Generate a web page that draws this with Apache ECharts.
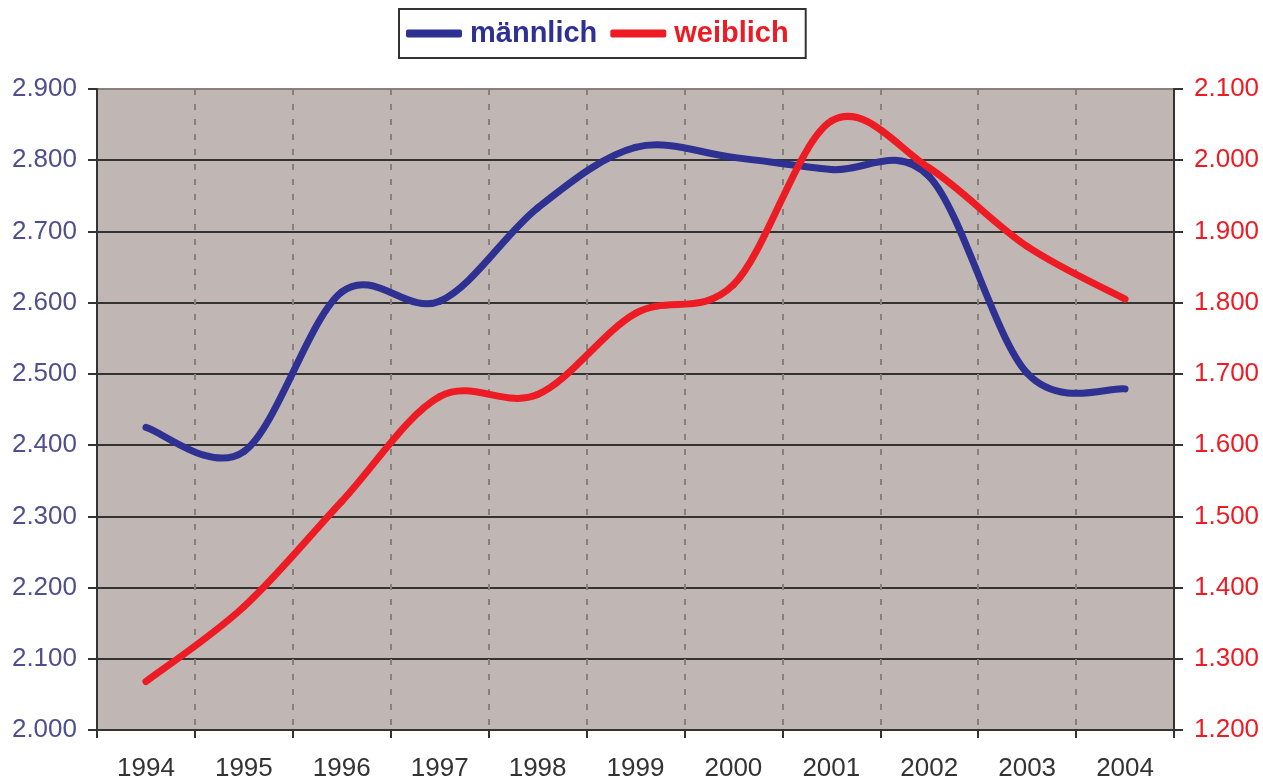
<!DOCTYPE html>
<html>
<head>
<meta charset="utf-8">
<script src="https://cdn.jsdelivr.net/npm/echarts@6/dist/echarts.min.js"></script>
<style>
html,body{margin:0;padding:0;background:#fff;}
#chart{width:1263px;height:780px;}
</style>
</head>
<body>
<div id="chart"></div>
<script>
const years = ['1994','1995','1996','1997','1998','1999','2000','2001','2002','2003','2004'];
const maleName = 'männlich';
const femaleName = 'weiblich';
const male = [2425, 2391, 2615, 2602, 2733, 2818, 2804, 2787, 2777, 2501, 2479];
const female = [1268, 1373, 1521, 1668, 1671, 1785, 1825, 2055, 1989, 1879, 1805];

const MALE_COLOR = '#2E3192';
const FEMALE_COLOR = '#ED1C24';

function de(v){ return String(v).replace(/\B(?=(\d{3})+(?!\d))/g, '.'); }

// Smooth curve (Catmull-Rom style Bezier, like spreadsheet smoothing) drawn
// segment by segment from the data through the axis scales (api.coord).
function makeRender(arr, color) {
  return function (params, api) {
    const i = params.dataIndex;
    const n = arr.length;
    if (i >= n - 1) return null;
    const P = function (k) {
      const j = Math.max(0, Math.min(n - 1, k));
      return api.coord([j, arr[j]]);
    };
    const p0 = P(i - 1), p1 = P(i), p2 = P(i + 1), p3 = P(i + 2);
    const t = 1 / 6;
    return {
      type: 'bezierCurve',
      shape: {
        x1: p1[0], y1: p1[1], x2: p2[0], y2: p2[1],
        cpx1: p1[0] + (p2[0] - p0[0]) * t, cpy1: p1[1] + (p2[1] - p0[1]) * t,
        cpx2: p2[0] - (p3[0] - p1[0]) * t, cpy2: p2[1] - (p3[1] - p1[1]) * t
      },
      style: { stroke: color, lineWidth: 7, lineCap: 'round', lineJoin: 'round', fill: 'none' }
    };
  };
}

const gridColors = ['#333333','#333333','#333333','#333333','#333333','#333333','#333333','#333333','#333333','#8A7F7C'];

const chart = echarts.init(document.getElementById('chart'));
chart.setOption({
  animation: false,
  backgroundColor: '#ffffff',
  textStyle: { fontFamily: 'Liberation Sans, Arial, sans-serif' },
  legend: {
    left: 399, top: 9,
    padding: [10, 17, 10, 7],
    itemGap: 13,
    itemWidth: 56, itemHeight: 8,
    borderColor: '#333333', borderWidth: 2,
    backgroundColor: '#ffffff',
    icon: 'roundRect',
    data: [
      { name: maleName, textStyle: { color: MALE_COLOR } },
      { name: femaleName, textStyle: { color: FEMALE_COLOR } }
    ],
    textStyle: { fontSize: 29, fontWeight: 'bold', fontFamily: 'Liberation Sans, Arial, sans-serif', padding: [5, 0, 0, 3] }
  },
  grid: { left: 97, right: 89, top: 89, bottom: 50, show: true, backgroundColor: '#C0B6B3', borderWidth: 0, outerBoundsMode: 'none', containLabel: false },
  xAxis: {
    type: 'category',
    data: years,
    boundaryGap: true,
    axisLine: { show: true, lineStyle: { color: '#333333', width: 2 } },
    axisTick: { show: true, length: 8, lineStyle: { color: '#333333', width: 2 } },
    axisLabel: { color: '#333333', fontSize: 26, margin: 26 },
    splitLine: { show: true, lineStyle: { color: '#8A7F7C', width: 2, type: [6, 9] } }
  },
  yAxis: [
    {
      type: 'value', min: 2000, max: 2900, interval: 100, position: 'left',
      axisLine: { show: true, lineStyle: { color: '#333333', width: 2 } },
      axisTick: { show: true, length: 9, lineStyle: { color: '#333333', width: 2 } },
      axisLabel: { color: '#4F4F8F', fontSize: 26, margin: 20, formatter: de },
      splitLine: { show: true, lineStyle: { color: gridColors, width: 2 } }
    },
    {
      type: 'value', min: 1200, max: 2100, interval: 100, position: 'right',
      axisLine: { show: true, lineStyle: { color: '#333333', width: 2 } },
      axisTick: { show: true, length: 9, lineStyle: { color: '#333333', width: 2 } },
      axisLabel: { color: FEMALE_COLOR, fontSize: 26, margin: 20, formatter: de },
      splitLine: { show: false }
    }
  ],
  series: [
    {
      name: maleName, type: 'custom', yAxisIndex: 0,
      data: male.map(function (v, i) { return [i, v]; }),
      encode: { x: 0, y: 1 },
      renderItem: makeRender(male, MALE_COLOR),
      itemStyle: { color: MALE_COLOR }
    },
    {
      name: femaleName, type: 'custom', yAxisIndex: 1,
      data: female.map(function (v, i) { return [i, v]; }),
      encode: { x: 0, y: 1 },
      renderItem: makeRender(female, FEMALE_COLOR),
      itemStyle: { color: FEMALE_COLOR }
    }
  ]
});
</script>
</body>
</html>
